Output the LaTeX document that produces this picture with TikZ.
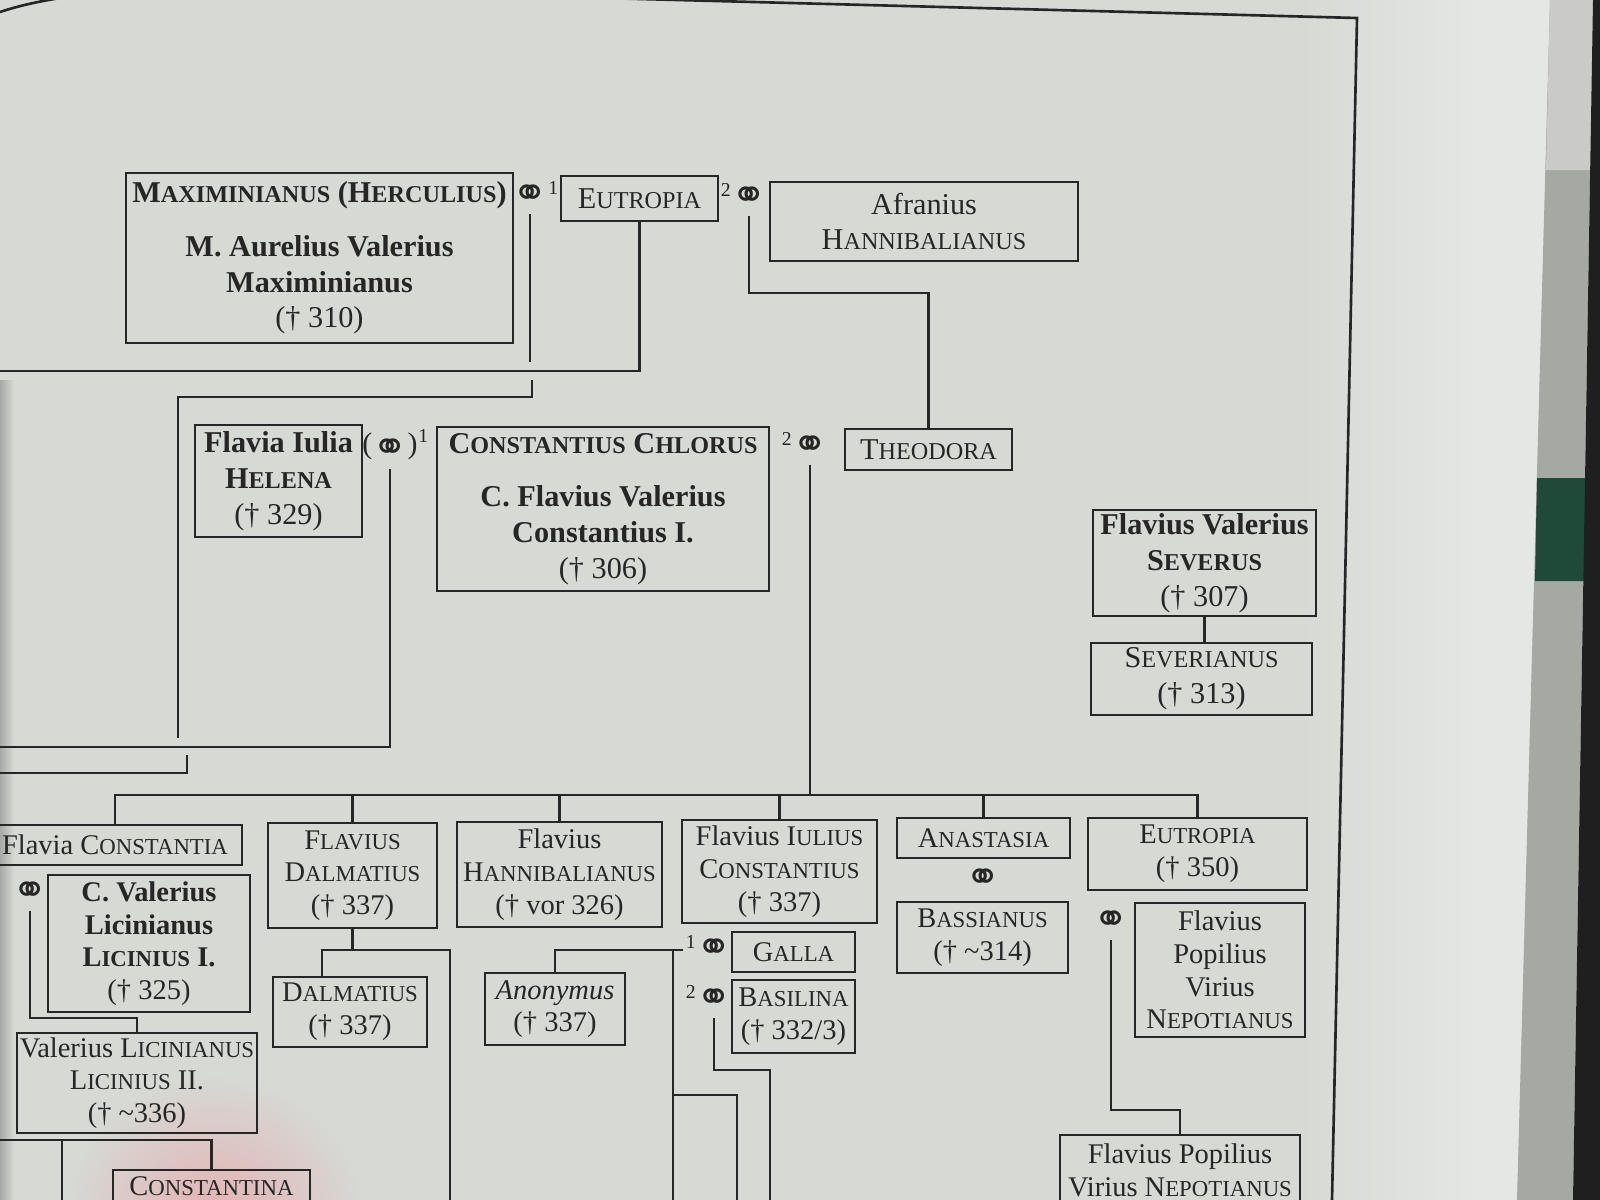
\documentclass[tikz,border=0pt]{standalone}
\usepackage{fontspec}
\setmainfont{Liberation Serif}
\newfontfamily\symfont{DejaVu Sans}
\usetikzlibrary{calc}
\definecolor{pagebg}{RGB}{214,217,212}
\definecolor{pagelight}{RGB}{229,231,228}
\definecolor{ink}{RGB}{38,38,38}
\definecolor{strip}{RGB}{166,168,164}
\definecolor{cover}{RGB}{31,74,58}
\definecolor{glow}{RGB}{228,176,178}
\makeatletter
\newcommand{\SC}[2]{#1{\fontsize{\the\dimexpr0.8\dimexpr\f@size pt\relax\relax}{\f@baselineskip}\selectfont\MakeUppercase{#2}}}
\makeatother
\newcommand{\marr}{{\symfont\fontsize{12}{12}\selectfont ⚭}}
\newcommand{\pers}[6]{\node[pbox, minimum width={(#4-#2)*0.01cm}, minimum height={(#5-#3)*0.01cm}] (#1) at ({(#2+#4)/2},{(#3+#5)/2}) {#6};}

\begin{document}
\begin{tikzpicture}[x=0.01cm, y=-0.01cm,
    pbox/.style={draw=ink, line width=0.8pt, text=ink, align=center, inner sep=0pt, font=\fontsize{8.1}{9.3}\selectfont},
    mnode/.style={inner sep=0pt, outer xsep=0pt, outer ysep=2pt, text=ink, font=\fontsize{8.5}{9}\selectfont},
    sup/.style={inner sep=0pt, text=ink, font=\fontsize{5.6}{6}\selectfont},
    link/.style={draw=ink, line width=0.75pt}]
    \useasboundingbox (0,0) rectangle (1600,1200);
    \clip (0,0) rectangle (1600,1200);
    % page
    \fill[pagebg] (0,0) rectangle (1600,1200);
    \shade[left color=black!22!pagebg, right color=pagebg] (0,380) rectangle (14,1200);
    \shade[inner color=glow, outer color=pagebg] (215,1225) circle[radius=1.5cm];
    \shade[left color=pagebg, right color=pagelight] (1300,0) rectangle (1480,1200);
    \fill[pagelight] (1480,0) -- (1550,0) -- (1517,1200) -- (1480,1200) -- cycle;
    \fill[strip] (1550,0) -- (1593,0) -- (1573,1200) -- (1517,1200) -- cycle;
    \fill[strip!60!white] (1550,0) -- (1593,0) -- (1592,170) -- (1546,170) -- cycle;
    \fill[cover] (1537,478) -- (1590,478) -- (1589,581) -- (1535,581) -- cycle;
    \fill[black!88] (1593,0) -- (1600,0) -- (1600,1200) -- (1573,1200) -- cycle;
    \draw[link] (0,12) .. controls (60,-8) and (150,-14) .. (300,-10) -- (1357,18) -- (1332,1200);

    \begin{scope}[pbox/.append style={font=\fontsize{8.6}{10.2}\selectfont}]
    % parents
    \pers{maxi}{126}{173}{513}{343}{\textbf{\SC{M}{aximinianus} (\SC{H}{erculius})}\\[5pt] \textbf{M. Aurelius Valerius}\\ \textbf{Maximinianus}\\ († 310)}
    \pers{eutropiaA}{561}{176}{718}{221}{\SC{E}{utropia}}
    \pers{afranius}{770}{182}{1078}{261}{Afranius\\ \SC{H}{annibalianus}}
    % second row
    \pers{helena}{195}{425}{362}{537}{\textbf{Flavia Iulia}\\ \textbf{\SC{H}{elena}}\\ († 329)}
    \pers{chlorus}{437}{427}{769}{591}{\textbf{\SC{C}{onstantius} \SC{C}{hlorus}}\\[5pt] \textbf{C. Flavius Valerius}\\ \textbf{Constantius I.}\\ († 306)}
    \pers{theodora}{845}{429}{1012}{470}{\SC{T}{heodora}}
    \pers{severus}{1093}{510}{1316}{616}{\textbf{Flavius Valerius}\\ \textbf{\SC{S}{everus}}\\ († 307)}
    \pers{severianus}{1091}{643}{1312}{715}{\SC{S}{everianus}\\ († 313)}
    \end{scope}
    \node[mnode, label={[sup, anchor=north west, yshift=-1pt]north east:1}] (m1) at (530,196) {\marr};
    \node[mnode, label={[sup, anchor=north east, yshift=-1pt]north west:2}] (m2) at (749,198) {\marr};
    \node[mnode, label={[sup, anchor=north west, yshift=-1pt]north east:1}] (m3) at (390,447) {(\raisebox{-2.4pt}{\marr})};
    \node[mnode, label={[sup, anchor=north east, yshift=-1pt]north west:2}] (m4) at (810,447) {\marr};
    % children
    \pers{constantia}{-12}{825}{242}{865}{Flavia \SC{C}{onstantia}}
    \pers{liciniusA}{48}{875}{250}{1012}{\textbf{C. Valerius}\\ \textbf{Licinianus}\\ \textbf{\SC{L}{icinius} I.}\\ († 325)}
    \pers{liciniusB}{17}{1033}{257}{1133}{Valerius \SC{L}{icinianus}\\ \SC{L}{icinius} II.\\ († \textasciitilde336)}
    \pers{constantina}{113}{1170}{310}{1203}{\SC{C}{onstantina}}
    \pers{dalmatiusA}{268}{823}{437}{928}{\SC{F}{lavius}\\ \SC{D}{almatius}\\ († 337)}
    \pers{dalmatiusB}{273}{977}{427}{1047}{\SC{D}{almatius}\\ († 337)}
    \pers{hanni}{457}{822}{662}{927}{Flavius\\ \SC{H}{annibalianus}\\ († vor 326)}
    \pers{iulius}{682}{820}{877}{923}{Flavius \SC{I}{ulius}\\ \SC{C}{onstantius}\\ († 337)}
    \pers{galla}{732}{932}{855}{972}{\SC{G}{alla}}
    \pers{anonymus}{485}{973}{625}{1045}{\textit{Anonymus}\\ († 337)}
    \pers{basilina}{732}{980}{855}{1053}{\SC{B}{asilina}\\ († 332/3)}
    \pers{anastasia}{897}{818}{1070}{858}{\SC{A}{nastasia}}
    \pers{bassianus}{897}{902}{1068}{973}{\SC{B}{assianus}\\ († \textasciitilde314)}
    \pers{eutropiaB}{1088}{818}{1307}{890}{\SC{E}{utropia}\\ († 350)}
    \pers{nepotianus}{1135}{903}{1305}{1037}{Flavius\\ Popilius\\ Virius\\ \SC{N}{epotianus}}
    \pers{nepotianusB}{1060}{1135}{1300}{1205}{Flavius Popilius\\ Virius \SC{N}{epotianus}}
    \node[mnode] (m5) at (30,893) {\marr};
    \node[mnode, label={[sup, anchor=north east, yshift=-1pt]north west:1}] (m6) at (714,950) {\marr};
    \node[mnode, label={[sup, anchor=north east, yshift=-1pt]north west:2}] (m7) at (714,1000) {\marr};
    \node[mnode] (m8) at (983,880) {\marr};
    \node[mnode] (m9) at (1111,922) {\marr};

    % lines top
    \coordinate (e1) at (0,362);
    \coordinate (f1) at (0,371);
    \coordinate (t1) at (0,293);
    \coordinate (h1) at (532,380);
    \coordinate (h2) at (178,738);
    \coordinate (k1) at (0,747);
    \coordinate (k2) at (187,755);
    \coordinate (k3) at (0,773);
    \coordinate (bar) at (0,795);
    \draw[link] (m1.south) -- (m1 |- e1);
    \draw[link] (eutropiaA.south) |- (f1);
    \draw[link] (m2.south) -- (m2 |- t1) -| (theodora.north);
    \draw[link] (h1) -- ++(0,17) -| (h2);
    \draw[link] (m3.south) |- (k1);
    \draw[link] (k2) |- (k3);
    \draw[link] (m4.south) -- (m4 |- bar);
    \draw[link] (severus.south) -- (severus.south |- severianus.north);
    % lines children
    \draw[link] (constantia.north) |- (eutropiaB.north |- bar) -- (eutropiaB.north);
    \foreach \c in {dalmatiusA,hanni,iulius,anastasia}
        \draw[link] (\c.north) -- (\c.north |- bar);
    \coordinate (l1) at (0,1018);
    \coordinate (l2) at (0,1140);
    \coordinate (l3) at (62,1140);
    \coordinate (l4) at (62,1200);
    \draw[link] (m5.south) |- (liciniusB.north |- l1) -- (liciniusB.north);
    \draw[link] (l2) -| (constantina.north);
    \draw[link] (l3) -- (l4);
    \coordinate (d1) at (0,950);
    \coordinate (d3) at (450,1200);
    \draw[link] (dalmatiusA.south) -- (dalmatiusA.south |- d1) coordinate (d2);
    \draw[link] (d2) -| ([xshift=-0.28cm]dalmatiusB.north);
    \draw[link] (d2) -| (d3);
    \coordinate (g1) at (683,950);
    \coordinate (g2) at (673,950);
    \coordinate (g3) at (673,1200);
    \coordinate (g4) at (673,1095);
    \coordinate (g5) at (737,1200);
    \draw[link] (g1) -| (anonymus.north);
    \draw[link] (g2) -- (g3);
    \draw[link] (g4) -| (g5);
    \coordinate (b0) at (770,1070);
    \coordinate (b1) at (770,1200);
    \draw[link] (m7.south) |- (b0) -- (b1);
    \coordinate (n1) at (0,1110);
    \draw[link] (m9.south) |- (nepotianusB.north |- n1) -- (nepotianusB.north);
\end{tikzpicture}
\end{document}
